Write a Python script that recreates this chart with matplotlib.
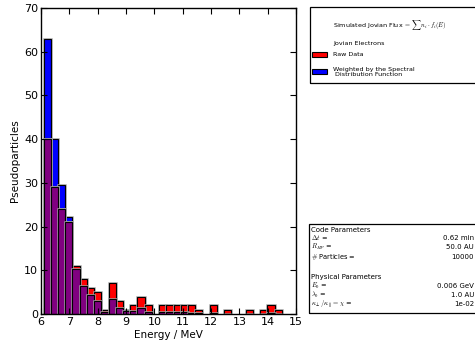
import numpy as np
import matplotlib
matplotlib.use("Agg")
import matplotlib.pyplot as plt
from matplotlib.patches import Rectangle
import matplotlib.patheffects as pe

plt.rcParams['mathtext.fontset'] = 'cm'
plt.rcParams['font.family'] = ['DejaVu Sans']

# Data
e_min, e_max, n_bins = 6.09, 14.5, 33
raw_counts = [40, 29, 24, 21, 11, 8, 6, 5, 1, 7, 3, 1, 2, 4, 2, 0, 2, 2, 2, 2, 2, 1,
              0, 2, 0, 1, 0, 0, 1, 0, 1, 2, 1]
weighted_counts = [63, 40, 29.4, 22.2, 10.2, 6.3, 4.3, 3.0, 0.5, 3.4, 1.3, 0.6, 0.6,
                   1.3, 0.5, 0, 0.4, 0.4, 0.35, 0.35, 0.3, 0.15, 0, 0.25, 0, 0.1, 0,
                   0, 0.1, 0, 0.1, 0.15, 0.07]
x_ticks = [6, 7, 8, 9, 10, 11, 12, 13, 14, 15]
y_ticks = [0, 10, 20, 30, 40, 50, 60, 70]

code_params = [("$\\Delta t$ =", "0.62 min"), ("$R_{HP}$ =", "50.0 AU"),
               ("$\\#$ Particles =", "10000")]
phys_params = [("$E_0$ =", "0.006 GeV"), ("$\\lambda_0$ =", "1.0 AU"),
               ("$\\kappa_\\perp/\\kappa_\\parallel = \\chi$ =", "1e-02")]

edges = np.linspace(e_min, e_max, n_bins + 1)
raw = np.array(raw_counts, dtype=float)
wt = np.array(weighted_counts, dtype=float)
overlap = np.minimum(raw, wt)

W, H = 475, 345
fig = plt.figure(figsize=(W / 100, H / 100), dpi=100)
ax = fig.add_axes([41 / W, 1 - 314 / H, 255 / W, 306 / H])

halo = [pe.Stroke(linewidth=1.8, foreground='0.65'), pe.Normal()]

def draw(vals, color):
    m = vals > 0
    bars = ax.bar(edges[:-1][m], vals[m], width=np.diff(edges)[m], align='edge',
                  color=color, edgecolor='black', linewidth=0.8)
    for b in bars:
        b.set_path_effects(halo)

draw(wt, '#0000ff')
draw(raw, '#ff0000')
draw(overlap, '#800080')

ax.set_xlim(6, 15)
ax.set_ylim(0, 70)
ax.set_xticks(x_ticks)
ax.set_yticks(y_ticks)
ax.tick_params(direction='in', top=True, right=True, length=4, width=0.8,
               labelsize=8, pad=2)
for s in ax.spines.values():
    s.set_linewidth(1.0)
ax.set_xlabel('Energy / MeV', fontsize=7.5, labelpad=2)
ax.set_ylabel('Pseudoparticles', fontsize=7.5, labelpad=3)

def fx(px):
    return px / W

def fy(py):
    return 1 - py / H

# Legend box
fig.patches.append(Rectangle((fx(310), fy(83)), fx(200), fy(7) - fy(83),
                             transform=fig.transFigure, fill=False,
                             edgecolor='black', linewidth=0.9))
fs_leg = 4.6
fig.text(fx(333), fy(25), 'Simulated Jovian Flux $=\\sum n_i \\cdot f_i(E)$',
         fontsize=fs_leg, va='center', ha='left')
fig.text(fx(333), fy(43), 'Jovian Electrons', fontsize=fs_leg, va='center', ha='left')
fig.patches.append(Rectangle((fx(312), fy(57)), fx(15), fy(52) - fy(57),
                             transform=fig.transFigure, facecolor='#ff0000',
                             edgecolor='black', linewidth=0.8))
fig.text(fx(333), fy(54.5), 'Raw Data', fontsize=fs_leg, va='center', ha='left')
fig.patches.append(Rectangle((fx(312), fy(74)), fx(15), fy(69) - fy(74),
                             transform=fig.transFigure, facecolor='#0000ff',
                             edgecolor='black', linewidth=0.8))
fig.text(fx(333), fy(72), 'Weighted by the Spectral\n Distribution Function',
         fontsize=fs_leg, va='center', ha='left', linespacing=1.0)

# Parameter box
fig.patches.append(Rectangle((fx(309), fy(313)), fx(200), fy(224) - fy(313),
                             transform=fig.transFigure, fill=False,
                             edgecolor='black', linewidth=0.9))
fs_p = 5.0
fs_m = 4.8
xl, xr = fx(311), fx(474)
fig.text(xl, fy(229.5), 'Code Parameters', fontsize=fs_p, va='center', ha='left')
for (lab, val), y in zip(code_params, [238, 247, 257]):
    fig.text(xl, fy(y), lab, fontsize=fs_m, va='center', ha='left')
    fig.text(xr, fy(y), val, fontsize=fs_p, va='center', ha='right')
fig.text(xl, fy(277), 'Physical Parameters', fontsize=fs_p, va='center', ha='left')
for (lab, val), y in zip(phys_params, [286, 295, 304]):
    fig.text(xl, fy(y), lab, fontsize=fs_m, va='center', ha='left')
    fig.text(xr, fy(y), val, fontsize=fs_p, va='center', ha='right')

fig.savefig('out.png', dpi=100)
